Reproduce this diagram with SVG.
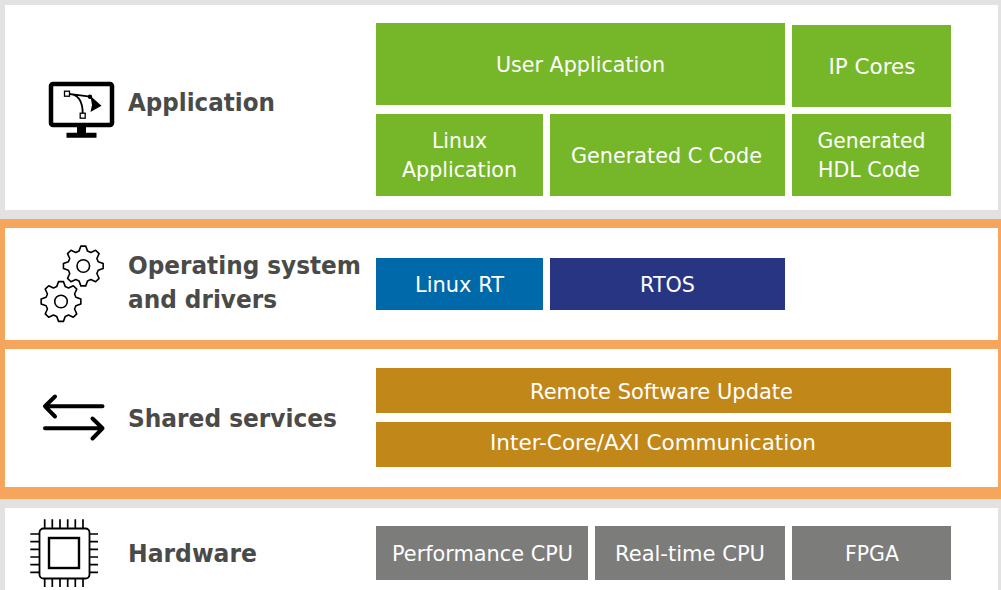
<svg xmlns="http://www.w3.org/2000/svg" width="1001" height="590" viewBox="0 0 1001 590">
<style>
.lab{font-family:"DejaVu Sans",Verdana,sans-serif;font-weight:700;font-size:24px;fill:#4a4a49}
.t{font-family:"DejaVu Sans",Verdana,sans-serif;font-size:21px;fill:#fff;text-anchor:middle}
.g{fill:#76b72a}.o{fill:#c28719}.h{fill:#7c7c7b}
.i{fill:none;stroke:#000}
</style>
<defs>
<path id="gear" stroke-linejoin="round" d="M2.440-19.850 4.270-14.900 7.510-13.560 12.310-15.760 15.760-12.310 13.560-7.510 14.900-4.270 19.850-2.440 19.850 2.440 14.900 4.270 13.560 7.510 15.760 12.310 12.310 15.760 7.510 13.560 4.270 14.900 2.440 19.850-2.440 19.850-4.270 14.900-7.510 13.560-12.310 15.760-15.760 12.310-13.560 7.510-14.900 4.270-19.850 2.440-19.850-2.440-14.900-4.270-13.560-7.510-15.760-12.310-12.310-15.760-7.510-13.560-4.270-14.900-2.440-19.850Z"/>
</defs>
<rect width="1001" height="590" fill="#e2e2e2"/>
<rect x="5" y="5" width="993" height="205" fill="#fff"/>
<rect y="219" width="1001" height="280" fill="#f5a55c"/>
<rect x="5" y="228" width="993" height="112" fill="#fff"/>
<rect x="5" y="349" width="993" height="138" fill="#fff"/>
<rect x="5" y="508" width="993" height="82" fill="#fff"/>
<g id="application">
<rect x="51" y="84" width="61" height="41" rx="2" class="i" stroke-width="4.500"/>
<path d="M77 127h9v6h-9z M66.500 132.700h30v5h-30z"/>
<path class="i" stroke-width="1.800" d="M67 93.700C78 94 83 100 82.700 115M67 93.700 90 96.700"/>
<rect x="64.500" y="91.200" width="5" height="5" fill="#fff" stroke="#000" stroke-width="1.300"/>
<rect x="80.200" y="113.200" width="5" height="5" fill="#fff" stroke="#000" stroke-width="1.300"/>
<circle cx="90" cy="96.700" r="2.200"/>
<path d="M90.500 96 101.500 105.800 90.500 112 92 105Z"/>
<text class="lab" x="128" y="111" textLength="147" lengthAdjust="spacingAndGlyphs">Application</text>
</g>
<g id="user-application"><rect class="g" x="376" y="23" width="409" height="82"/><text class="t" x="580.500" y="72" textLength="169" lengthAdjust="spacingAndGlyphs">User Application</text></g>
<g id="ip-cores"><rect class="g" x="792" y="25" width="159" height="82"/><text class="t" x="872" y="74" textLength="87" lengthAdjust="spacingAndGlyphs">IP Cores</text></g>
<g id="linux-application"><rect class="g" x="376" y="114" width="167" height="82"/><text class="t" x="459.500" y="148" textLength="55" lengthAdjust="spacingAndGlyphs">Linux</text><text class="t" x="459.500" y="177" textLength="115" lengthAdjust="spacingAndGlyphs">Application</text></g>
<g id="generated-c-code"><rect class="g" x="550" y="114" width="235" height="82"/><text class="t" x="666.500" y="163" textLength="191" lengthAdjust="spacingAndGlyphs">Generated C Code</text></g>
<g id="generated-hdl-code"><rect class="g" x="792" y="114" width="159" height="82"/><text class="t" x="871.500" y="148" textLength="108" lengthAdjust="spacingAndGlyphs">Generated</text><text class="t" x="869" y="177" textLength="102" lengthAdjust="spacingAndGlyphs">HDL Code</text></g>
<g id="os">
<g fill="#fff" stroke="#000" stroke-width="1.600">
<use href="#gear" transform="translate(83.300 266)"/>
<circle cx="83.300" cy="266" r="6.300"/>
<use href="#gear" transform="translate(61 301.500)"/>
<circle cx="61" cy="301.500" r="6.300"/>
</g>
<text class="lab" x="128" y="274" textLength="233" lengthAdjust="spacingAndGlyphs">Operating system</text>
<text class="lab" x="128" y="308" textLength="149" lengthAdjust="spacingAndGlyphs">and drivers</text>
</g>
<g id="linux-rt"><rect x="376" y="258" width="167" height="52" fill="#0069aa"/><text class="t" x="459.500" y="292" textLength="89" lengthAdjust="spacingAndGlyphs">Linux RT</text></g>
<g id="rtos"><rect x="550" y="258" width="235" height="52" fill="#283583"/><text class="t" x="667.500" y="292" textLength="55" lengthAdjust="spacingAndGlyphs">RTOS</text></g>
<g id="shared">
<path class="i" stroke-width="4" stroke-linecap="round" stroke-linejoin="round" d="M45 406.300H102.500M55 396.500 45 406.300 55 416.500M45 428.300H102.500M92.500 418.500 102.500 428.300 92.500 438.500"/>
<text class="lab" x="128" y="427" textLength="209" lengthAdjust="spacingAndGlyphs">Shared services</text>
</g>
<g id="remote-software-update"><rect class="o" x="376" y="368" width="575" height="45"/><text class="t" x="661.500" y="399" textLength="263" lengthAdjust="spacingAndGlyphs">Remote Software Update</text></g>
<g id="inter-core"><rect class="o" x="376" y="422" width="575" height="45"/><text class="t" x="653" y="450" textLength="326" lengthAdjust="spacingAndGlyphs">Inter-Core/AXI Communication</text></g>
<g id="hardware">
<g class="i">
<rect x="39.500" y="528.500" width="50" height="50" rx="4" stroke-width="1.800"/>
<rect x="49" y="538" width="30" height="30" stroke-width="2.400"/>
<path stroke-width="1.700" d="M44.700 519.300v9M52.300 519.300v9M60 519.300v9M67.700 519.300v9M75.300 519.300v9M83 519.300v9M44.700 578.500v8.500M52.300 578.500v8.500M60 578.500v8.500M67.700 578.500v8.500M75.300 578.500v8.500M83 578.500v8.500M30.300 534h9M30.300 541.700h9M30.300 549.300h9M30.300 557h9M30.300 564.700h9M30.300 572.300h9M89.500 534h8.500M89.500 541.700h8.500M89.500 549.300h8.500M89.500 557h8.500M89.500 564.700h8.500M89.500 572.300h8.500"/>
</g>
<text class="lab" x="128" y="562" textLength="129" lengthAdjust="spacingAndGlyphs">Hardware</text>
</g>
<g id="performance-cpu"><rect class="h" x="376" y="526" width="212" height="54"/><text class="t" x="482.500" y="561" textLength="181" lengthAdjust="spacingAndGlyphs">Performance CPU</text></g>
<g id="real-time-cpu"><rect class="h" x="595" y="526" width="190" height="54"/><text class="t" x="690" y="561" textLength="150" lengthAdjust="spacingAndGlyphs">Real-time CPU</text></g>
<g id="fpga"><rect class="h" x="792" y="526" width="159" height="54"/><text class="t" x="872" y="561" textLength="54" lengthAdjust="spacingAndGlyphs">FPGA</text></g>
</svg>
